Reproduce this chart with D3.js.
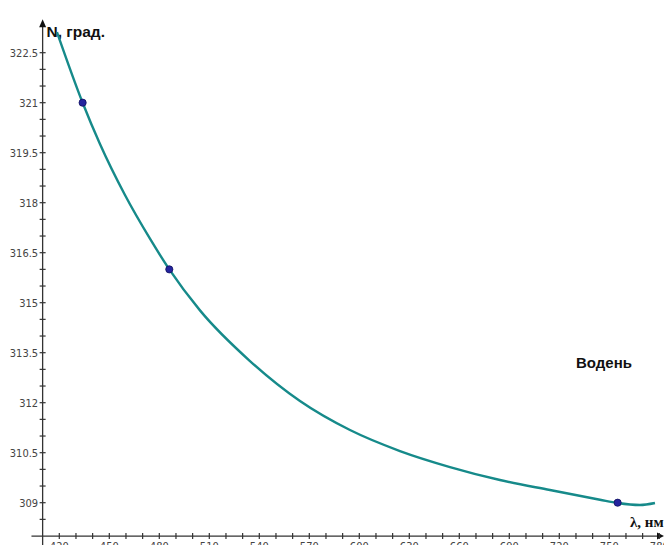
<!DOCTYPE html>
<html>
<head>
<meta charset="utf-8">
<script src="https://cdn.jsdelivr.net/npm/d3@7"></script>
<style>
  html, body { margin: 0; padding: 0; background: #fff; overflow: hidden; }
  svg { display: block; }
</style>
</head>
<body>
<svg id="chart" width="664" height="545"></svg>
<script>
// Measured refraction readings for the hydrogen lines
const wavelengths = [434, 486, 755];
const readings = [321, 316, 309];

// Fitted dispersion curve, sampled along its length
const curveLambda = [418.6, 434, 444.4, 459.4, 474.4, 486, 504.4, 534.4, 564.4, 594.4, 624.4, 654.4, 684.4, 714.4, 744.4, 755, 768.4, 777.4];
const curveN      = [323.12, 321, 319.76, 318.23, 316.92, 316, 314.77, 313.25, 312.05, 311.18, 310.55, 310.07, 309.68, 309.38, 309.09, 308.99, 308.93, 308.99];

// Tick values and labels
const xMinorTicks = d3.range(420, 781, 10);
const xLabelTicks = [420, 450, 480, 510, 540, 570, 600, 630, 660, 690, 720, 750, 780];
const yMinorTicks = d3.range(308.5, 322.51, 0.5);
const yLabelTicks = [309, 310.5, 312, 313.5, 315, 316.5, 318, 319.5, 321, 322.5];

const svg = d3.select("#chart");

const x = d3.scaleLinear().domain([420, 780]).range([59.3, 659.3]);
const y = d3.scaleLinear().domain([309, 322.5]).range([502.7, 52.7]);

const axisColor = "#333";
const x0 = x(410);      // vertical axis position
const y0 = y(308);      // horizontal axis position

// Horizontal axis
svg.append("line")
  .attr("x1", x(403.3)).attr("x2", 662)
  .attr("y1", y0).attr("y2", y0)
  .attr("stroke", axisColor).attr("stroke-width", 1.3);
svg.append("path")
  .attr("d", `M664,${y0} L657,${y0 - 3.5} L657,${y0 + 3.5} Z`)
  .attr("fill", "#111");

svg.selectAll(".xtick").data(xMinorTicks).enter().append("line")
  .attr("x1", d => x(d)).attr("x2", d => x(d))
  .attr("y1", y0 - 3).attr("y2", y0 + 3)
  .attr("stroke", axisColor).attr("stroke-width", 1.2);

svg.selectAll(".xlabel").data(xLabelTicks).enter().append("text")
  .attr("x", d => x(d)).attr("y", y0 + 13.5)
  .attr("text-anchor", "middle")
  .attr("font-family", "'Liberation Sans Narrow', 'DejaVu Sans Condensed', sans-serif")
  .attr("font-size", 11).attr("fill", "#444")
  .text(d => d);

// Vertical axis
svg.append("line")
  .attr("x1", x0).attr("x2", x0)
  .attr("y1", y(323.3)).attr("y2", 545)
  .attr("stroke", axisColor).attr("stroke-width", 1.3);
svg.append("path")
  .attr("d", `M${x0},${y(323.5)} L${x0 - 3.5},${y(323.5) + 8} L${x0 + 3.5},${y(323.5) + 8} Z`)
  .attr("fill", "#111");

svg.selectAll(".ytick").data(yMinorTicks).enter().append("line")
  .attr("x1", x0 - 3).attr("x2", x0 + 3)
  .attr("y1", d => y(d)).attr("y2", d => y(d))
  .attr("stroke", axisColor).attr("stroke-width", 1.2);

svg.selectAll(".ylabel").data(yLabelTicks).enter().append("text")
  .attr("x", x0 - 4.5).attr("y", d => y(d) + 4)
  .attr("text-anchor", "end")
  .attr("font-family", "'Liberation Sans Narrow', 'DejaVu Sans Condensed', sans-serif")
  .attr("font-size", 11).attr("fill", "#444")
  .text(d => d);

// Axis titles
svg.append("text")
  .attr("x", 46.5).attr("y", 37)
  .attr("font-family", "'Liberation Sans', Arial, sans-serif")
  .attr("font-weight", "bold").attr("font-size", 15.5).attr("fill", "#111")
  .text("N, град.");

svg.append("text")
  .attr("x", 630).attr("y", 527)
  .attr("font-family", "'Liberation Serif', 'Times New Roman', serif")
  .attr("font-weight", "bold").attr("font-size", 15).attr("fill", "#111")
  .text("λ, нм");

// Series name
svg.append("text")
  .attr("x", 576).attr("y", 368)
  .attr("font-family", "'Liberation Sans', Arial, sans-serif")
  .attr("font-weight", "bold").attr("font-size", 15).attr("fill", "#111")
  .text("Водень");

// Dispersion curve
const curveData = curveLambda.map((l, i) => [l, curveN[i]]);
svg.append("path")
  .datum(curveData)
  .attr("d", d3.line().x(d => x(d[0])).y(d => y(d[1])).curve(d3.curveMonotoneX))
  .attr("fill", "none")
  .attr("stroke", "#168a8a")
  .attr("stroke-width", 2.4);

// Measured points
svg.selectAll(".pt").data(wavelengths.map((l, i) => [l, readings[i]])).enter().append("circle")
  .attr("cx", d => x(d[0])).attr("cy", d => y(d[1]))
  .attr("r", 3.6)
  .attr("fill", "#24249e")
  .attr("stroke", "#101060").attr("stroke-width", 0.8);
</script>
</body>
</html>
